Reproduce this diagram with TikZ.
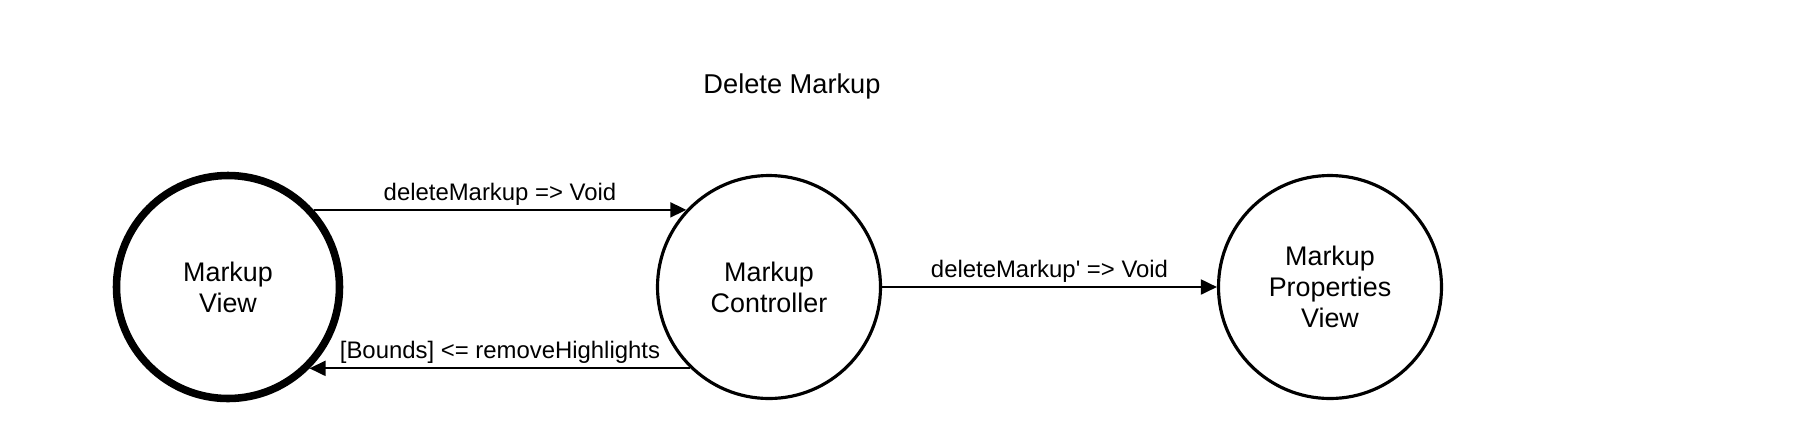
\documentclass[tikz,border=0pt]{standalone}
\usepackage{fontspec}
\setmainfont{Liberation Sans}
\newfontfamily\msgfont{Liberation Sans}
\usetikzlibrary{shapes,arrows.meta,positioning}

\begin{document}
\begin{tikzpicture}[node distance=10.82cm, auto]
    % Define styles
    \tikzstyle{state} = [circle, minimum size=4.46cm, inner sep=0pt, align=center, draw=black, line width=1.8pt, font=\fontsize{15.3}{17.7}\selectfont]
    \tikzstyle{heavy} = [line width=4.3pt]
    \tikzstyle{arrow} = [line width=1.1pt, -{Triangle[length=0.32cm, width=0.3cm]}]
    \tikzstyle{msg} = [font=\msgfont\fontsize{13.6}{16}\selectfont, inner sep=2pt]

    \useasboundingbox (0,0) rectangle (36.32,-8.94);

    % Nodes
    \node [state, heavy] (view) at (4.56,-5.74) {Markup\\View};
    \node [state, right of=view] (ctrl) {Markup\\Controller};
    \node [state, right of=ctrl, xshift=0.4cm] (props) {Markup\\Properties\\View};
    \node [font=\fontsize{15.5}{18}\selectfont] (title) at (15.84,-1.72) {Delete Markup};

    % Arrows
    \draw [arrow] (view.42) -- node [msg, above] {deleteMarkup => Void} (view.42 -| ctrl.137);
    \draw [arrow] (ctrl) -- node [msg, above] {deleteMarkup' => Void} (props);
    \draw [arrow] (ctrl.226) -- node [msg, above] {[Bounds] <= removeHighlights} (ctrl.226 -| view.315);
\end{tikzpicture}
\end{document}
